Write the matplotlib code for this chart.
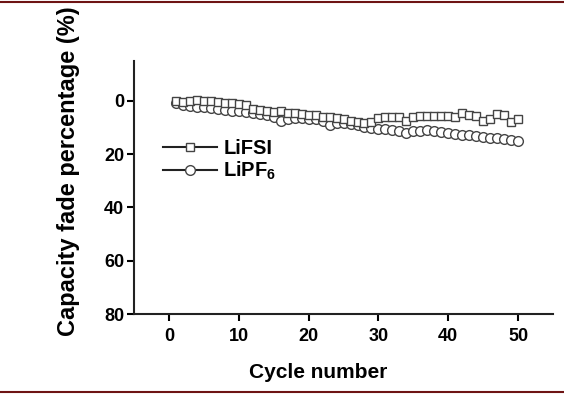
import matplotlib
matplotlib.use('Agg')
import matplotlib.pyplot as plt
from matplotlib.lines import Line2D
import numpy as np

plt.rcParams['font.family'] = ['Liberation Sans', 'DejaVu Sans']
plt.rcParams['font.weight'] = 'bold'
plt.rcParams['mathtext.fontset'] = 'custom'
plt.rcParams['mathtext.rm'] = 'Liberation Sans:bold'
plt.rcParams['mathtext.bf'] = 'Liberation Sans:bold'

# Data
cycles = list(range(1, 51))
lifsi = [0.3, 0.5, 0.2, -0.2, 0.0, 0.2, 0.5, 1.0, 0.8, 1.2,
         1.5, 3.0, 3.5, 4.0, 4.2, 4.0, 4.5, 4.8, 5.0, 5.2,
         5.5, 6.0, 6.3, 6.5, 7.0, 7.5, 8.0, 8.5, 8.0, 6.5,
         6.2, 6.0, 6.3, 7.5, 6.0, 5.8, 5.8, 5.8, 5.8, 5.8,
         6.0, 4.8, 5.5, 5.8, 7.5, 7.0, 5.0, 5.2, 8.0, 7.0]
lipf6 = [0.8, 1.5, 2.0, 2.3, 2.5, 2.8, 3.2, 3.5, 3.8, 4.0,
         4.3, 4.6, 5.0, 5.5, 6.2, 7.5, 7.0, 6.5, 6.5, 6.8,
         7.0, 7.5, 9.0, 8.5, 8.3, 8.8, 9.2, 10.0, 10.3, 10.5,
         10.8, 11.0, 11.3, 12.3, 11.5, 11.2, 11.0, 11.3, 11.6, 12.0,
         12.4, 12.8, 13.0, 13.3, 13.6, 13.9, 14.1, 14.3, 14.6, 15.0]
x_ticks = [0, 10, 20, 30, 40, 50]
y_ticks = [0, 20, 40, 60, 80]

fig = plt.figure(figsize=(5.64, 3.94), dpi=100)
ax = fig.add_axes([0.2376, 0.203, 0.743, 0.643])

ax.plot(cycles, lipf6, '-', color='#222222', lw=1.5, marker='o', markersize=7,
        markerfacecolor='white', markeredgecolor='#444444', markeredgewidth=1.0,
        label=r'LiPF$_6$')
ax.plot(cycles, lifsi, '-', color='#222222', lw=1.5, marker='s', markersize=6.2,
        markerfacecolor='white', markeredgecolor='#444444', markeredgewidth=1.0,
        label='LiFSI')

ax.set_xlim(-5, 55)
ax.set_ylim(80, -15)
ax.set_xticks(x_ticks)
ax.set_yticks(y_ticks)
ax.tick_params(direction='out', length=5, width=1.5, labelsize=13)
ax.tick_params(axis='x', pad=5)
ax.tick_params(axis='y', pad=2)
for lbl in ax.get_xticklabels() + ax.get_yticklabels():
    lbl.set_fontweight('bold')
for side in ['top', 'right']:
    ax.spines[side].set_visible(False)
for side in ['left', 'bottom']:
    ax.spines[side].set_linewidth(1.5)
    ax.spines[side].set_color('#222222')

ax.set_xlabel('Cycle number', fontsize=15, fontweight='bold')
ax.set_ylabel('Capacity fade percentage (%)', fontsize=17, fontweight='bold')
ax.xaxis.set_label_coords(0.44, -0.195)
ax.yaxis.set_label_coords(-0.128, 0.565)

handles, labels = ax.get_legend_handles_labels()
leg = ax.legend(handles[::-1], labels[::-1], loc='upper left',
                bbox_to_anchor=(163 / 564, 1 - 139 / 394), bbox_transform=fig.transFigure,
                frameon=False, borderpad=0, borderaxespad=0, handlelength=2.7,
                handletextpad=0.3, labelspacing=0.1, prop={'size': 14.5, 'weight': 'bold'})

# dark red rules at top and bottom of the figure
fig.add_artist(Line2D([0, 1], [1 - 2 / 394, 1 - 2 / 394], transform=fig.transFigure,
                      color='#6e1414', lw=1.5))
fig.add_artist(Line2D([0, 1], [2 / 394, 2 / 394], transform=fig.transFigure,
                      color='#6e1414', lw=1.5))

fig.savefig('out.png', dpi=100)
